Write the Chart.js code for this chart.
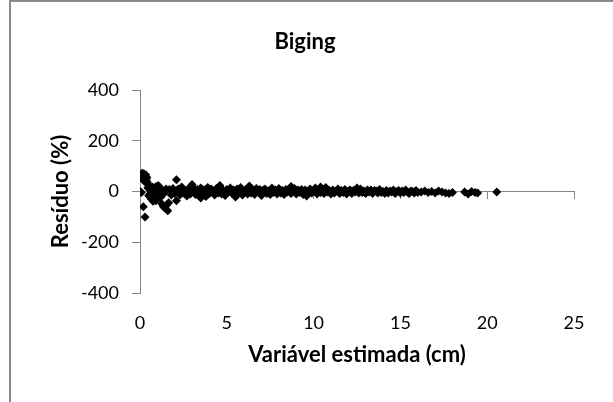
<!DOCTYPE html>
<html>
<head>
<meta charset="utf-8">
<title>Biging</title>
<script src="https://cdn.jsdelivr.net/npm/chart.js@4"></script>
<style>
  body { margin: 0; background: #fff; }
  canvas { display: block; }
</style>
</head>
<body>
<canvas id="residuoChart" width="613" height="402"></canvas>
<script>
// Residuals (%) vs. estimated variable (cm)
const xNear = [0.02, 0.08, 0.12, 0.15, 0.18, 0.2, 0.22, 0.25, 0.28, 0.3, 0.33, 0.36, 0.4, 0.42, 0.45, 0.5,
  0.19, 0.29, 0.55, 0.6, 0.65, 0.7, 0.75, 0.8, 0.85, 0.9, 0.95, 1.0, 1.05, 1.1, 1.15, 1.2, 1.25, 1.3,
  1.35, 1.4, 1.45, 1.5, 1.55, 1.6, 1.65, 1.7, 1.8, 1.9, 2.0, 2.1, 2.1, 0.62, 0.72, 0.82, 0.92, 1.02, 1.12, 0.5, 0.45];
const yNear = [0, -4, 72, 65, 48, 58, 70, 40, 62, 52, 66, 45, 55, 36, 30, 22,
  -60, -100, -20, -8, -30, -14, -38, 4, -26, -36, 12, -18, 24, -10, 16, -22, -48, -12,
  -60, -6, -66, 10, -52, -76, -44, 8, -14, 12, -8, 46, -36, 6, 18, -20, 20, -28, 10, -16, 14];

// main band, x = 2.2 ... 16.0
const xBand = [2.2, 2.3, 2.4, 2.5, 2.6, 2.7, 2.8, 2.9, 3.0, 3.1,
  3.2, 3.3, 3.4, 3.5, 3.6, 3.7, 3.8, 3.9, 4.0, 4.1,
  4.2, 4.3, 4.4, 4.5, 4.6, 4.7, 4.8, 4.9, 5.0, 5.1,
  5.2, 5.3, 5.4, 5.5, 5.6, 5.7, 5.8, 5.9, 6.0, 6.1,
  6.2, 6.3, 6.4, 6.5, 6.6, 6.7, 6.8, 6.9, 7.0, 7.1,
  7.2, 7.3, 7.4, 7.5, 7.6, 7.7, 7.8, 7.9, 8.0, 8.1,
  8.2, 8.3, 8.4, 8.5, 8.6, 8.7, 8.8, 8.9, 9.0, 9.1,
  9.2, 9.3, 9.4, 9.5, 9.6, 9.7, 9.8, 9.9, 10.0, 10.1,
  10.2, 10.3, 10.4, 10.5, 10.6, 10.7, 10.8, 10.9, 11.0, 11.1,
  11.2, 11.3, 11.4, 11.5, 11.6, 11.7, 11.8, 11.9, 12.0, 12.1,
  12.2, 12.3, 12.4, 12.5, 12.6, 12.7, 12.8, 12.9, 13.0, 13.1,
  13.2, 13.3, 13.4, 13.5, 13.6, 13.7, 13.8, 13.9, 14.0, 14.1,
  14.2, 14.3, 14.4, 14.5, 14.6, 14.7, 14.8, 14.9, 15.0, 15.1,
  15.2, 15.3, 15.4, 15.5, 15.6, 15.7, 15.8, 15.9, 16.0,
  3.0, 4.6, 6.3, 8.7, 10.4, 12.5, 9.6, 5.5, 3.5];
const yBand = [10, -14, 18, -6, 4, -18, 12, -10, 20, -4,
  -12, 8, -16, 14, -2, 6, -20, 16, -8, 10,
  2, -14, 12, -6, 18, -10, 4, -16, 8, -2,
  14, -8, 6, -12, 10, -4, 16, -14, 2, 8,
  -10, 18, -6, 4, -12, 12, -2, 8, -16, 6,
  10, -8, 2, -12, 14, -4, 6, -10, 12, -6,
  4, -12, 8, -2, 10, -8, 2, 12, -10, 6,
  -4, 8, -12, 6, 2, -8, 10, -6, 4, 14,
  -10, 6, -4, 8, -8, 16, -2, 4, -10, 6,
  -6, 2, 10, -8, 4, -4, 8, -10, 2, 6,
  -8, 4, -2, 8, -6, 10, -4, 2, -8, 6,
  -2, 6, -8, 4, 2, -6, 8, -4, 0, -8,
  4, -6, 2, -2, 6, -8, 0, 4, -6, 2,
  -4, 6, -2, -8, 2, 0, -6, 4, -4,
  28, 24, 22, 20, 18, 14, -18, -22, -26];

// sparse tail
const xTail = [16.2, 16.4, 16.6, 16.8, 17.0, 17.2, 17.4, 17.6, 17.8, 18.0, 18.7, 18.9, 19.1, 19.3, 19.45, 20.55];
const yTail = [-2, 2, -4, 0, -6, 2, -2, -6, -8, -4, -2, -10, 0, -4, -6, -2];

const xTicks = [0, 5, 10, 15, 20, 25];
const yTicks = [-400, -200, 0, 200, 400];

const axisGray = '#868686';
const fontFamily = 'Lato, "Open Sans", sans-serif';

function toPoints(xs, ys) {
  return xs.map((x, i) => ({ x: x, y: ys[i] }));
}
const points = toPoints(xNear, yNear).concat(toPoints(xBand, yBand), toPoints(xTail, yTail));

// outer frame of the chart (only top and left show in the picture)
const framePlugin = {
  id: 'frame',
  beforeDraw(chart) {
    const ctx = chart.ctx;
    ctx.save();
    ctx.fillStyle = '#fff';
    ctx.fillRect(0, 0, chart.width, chart.height);
    ctx.fillStyle = '#8a8a8a';
    ctx.fillRect(9, 0, chart.width - 9, 2);
    ctx.fillRect(9, 0, 2, chart.height);
    ctx.restore();
  }
};

const ctx = document.getElementById('residuoChart').getContext('2d');
new Chart(ctx, {
  type: 'scatter',
  data: {
    datasets: [{
      label: 'Resíduo',
      data: points,
      pointStyle: 'rectRot',
      radius: 4.5,
      backgroundColor: '#000',
      borderColor: '#000',
      borderWidth: 0
    }]
  },
  options: {
    responsive: false,
    animation: false,
    layout: { padding: { left: 36, right: 39, top: 0, bottom: 0 } },
    plugins: {
      legend: { display: false },
      tooltip: { enabled: false },
      title: {
        display: true,
        text: 'Biging',
        color: '#000',
        font: { family: fontFamily, size: 22, weight: 'bold' },
        padding: { top: 29, bottom: 34.6 }
      }
    },
    scales: {
      x: {
        type: 'linear',
        position: 'bottom',
        min: 0,
        max: 25,
        afterBuildTicks: (s) => { s.ticks = xTicks.map(v => ({ value: v })); },
        afterFit: (s) => { s.height = 109; },
        grid: { display: false, drawTicks: false },
        border: { display: false },
        ticks: { color: '#000', padding: 19, font: { family: fontFamily, size: 18 } },
        title: {
          display: true,
          text: 'Variável estimada (cm)',
          color: '#000',
          font: { family: fontFamily, size: 22, weight: 'bold' },
          padding: { top: 0, bottom: 34 }
        }
      },
      // horizontal axis line drawn through y = 0
      xZero: {
        type: 'linear',
        axis: 'x',
        position: { y: 0 },
        min: 0,
        max: 25,
        afterBuildTicks: (s) => { s.ticks = xTicks.map(v => ({ value: v })); },
        ticks: { display: false },
        grid: { drawOnChartArea: false, drawTicks: true, tickLength: 7, color: axisGray },
        border: { display: true, color: axisGray, width: 1 }
      },
      y: {
        type: 'linear',
        min: -400,
        max: 400,
        afterBuildTicks: (s) => { s.ticks = yTicks.map(v => ({ value: v })); },
        afterFit: (s) => { s.width = 104; },
        grid: { drawOnChartArea: false, drawTicks: true, tickLength: 8, color: axisGray },
        border: { display: true, color: axisGray, width: 1 },
        ticks: { color: '#000', padding: 13, font: { family: fontFamily, size: 18 } },
        title: {
          display: true,
          text: 'Resíduo (%)',
          color: '#000',
          font: { family: fontFamily, size: 22, weight: 'bold' },
          padding: { top: 12, bottom: 0 }
        }
      }
    }
  },
  plugins: [framePlugin]
});
</script>
</body>
</html>
